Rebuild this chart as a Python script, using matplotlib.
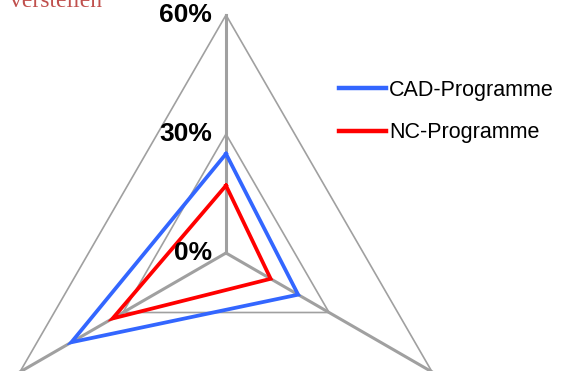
import numpy as np
import matplotlib
matplotlib.use("Agg")
import matplotlib.pyplot as plt

# Radar chart data (three unnamed directions, clockwise from the top)
series_names = ["CAD-Programme", "NC-Programme"]
cad_values = [25, 21, 45]
nc_values = [17, 13, 33]
grid_levels = [0, 30, 60]
grid_labels = ["0%", "30%", "60%"]

colors = {"CAD-Programme": "#3366ff", "NC-Programme": "#ff0000"}
grid_color = "#a0a0a0"

W, H = 573, 371
fig = plt.figure(figsize=(W / 100, H / 100), dpi=100)

# polar axes centred at (226, 253) px with radius 238 px
cx, cy, R = 226, 253, 238
ax = fig.add_axes([(cx - R) / W, (H - cy - R) / H, 2 * R / W, 2 * R / H],
                  projection="polar")
ax.set_theta_offset(np.pi / 2)
ax.set_theta_direction(-1)
ax.set_ylim(0, 60)
ax.axis("off")

n = len(cad_values)
angles = np.linspace(0, 2 * np.pi, n, endpoint=False)
closed = np.append(angles, angles[0])

# triangular gridlines
for lvl in grid_levels[1:]:
    ax.plot(closed, [lvl] * (n + 1), color=grid_color, lw=1.2,
            solid_joinstyle="miter", zorder=1, clip_on=False)
# spokes
for a in angles:
    ax.plot([a, a], [0, grid_levels[-1]], color=grid_color, lw=2.2,
            zorder=1, clip_on=False)

# data series
for name, vals in zip(series_names, [cad_values, nc_values]):
    ax.plot(closed, vals + vals[:1], color=colors[name], lw=2.7,
            solid_joinstyle="miter", zorder=3, label=name, clip_on=False)

# radial value labels left of the top spoke
for lvl, lab in zip(grid_levels, grid_labels):
    ax.annotate(lab, xy=(0, lvl), xytext=(-14, 0), textcoords="offset pixels",
                ha="right", va="center", fontsize=19, fontweight="bold",
                family="Liberation Sans", color="#000000")

# legend
leg = fig.legend(loc="upper left", bbox_to_anchor=(330 / W, 1 - 71 / H),
                 frameon=False, prop={"family": "Liberation Sans", "size": 15.5},
                 handlelength=2.2, handletextpad=0.15, labelspacing=1.0,
                 borderaxespad=0)
for line in leg.get_lines():
    line.set_linewidth(3.2)

# caption fragment at the top left
fig.text(10 / W, 1 - 7 / H, "verstellen", ha="left", va="baseline",
         fontsize=17, family="Liberation Serif", color="#c0504d")

fig.savefig("out.png", dpi=100)
